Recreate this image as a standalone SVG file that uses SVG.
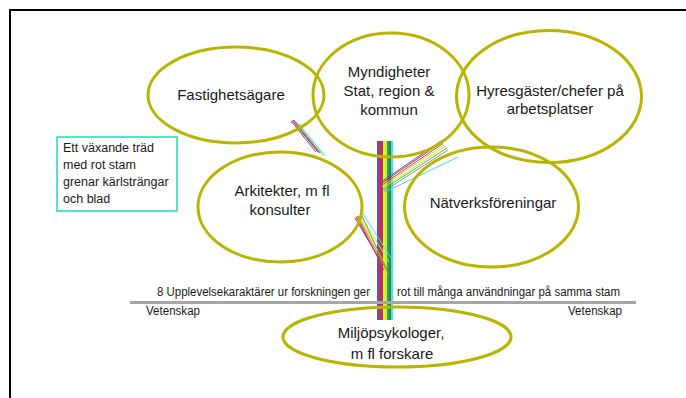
<svg xmlns="http://www.w3.org/2000/svg" width="686" height="398" viewBox="0 0 686 398">
<style>
.ell{fill:none;stroke:#bab400;stroke-width:3}
.t{font-family:"Liberation Sans",Arial,sans-serif;font-size:15px;fill:#1a1a1a;text-anchor:middle}
.s{font-family:"Liberation Sans",Arial,sans-serif;font-size:12px;fill:#1a1a1a}
.b{font-family:"Liberation Sans",Arial,sans-serif;font-size:12.5px;fill:#1a1a1a}
.br line{stroke-width:1}
</style>
<rect x="0" y="0" width="686" height="398" fill="#ffffff"/>
<rect x="10" y="10" width="700" height="420" fill="none" stroke="#000000" stroke-width="2"/>

<g id="note">
<rect x="57" y="137" width="120" height="74" fill="#ffffff" stroke="#48e0c0" stroke-width="1.8"/>
<text class="b" x="63" y="152">Ett växande träd</text>
<text class="b" x="63" y="169">med rot stam</text>
<text class="b" x="63" y="186">grenar kärlsträngar</text>
<text class="b" x="63" y="203">och blad</text>
</g>

<g id="stem">
<rect x="377" y="141" width="2" height="179" fill="#4a5cc4"/>
<rect x="379" y="141" width="2" height="179" fill="#e8203a"/>
<rect x="381" y="141" width="2" height="179" fill="#9a3a8a"/>
<rect x="383" y="141" width="2" height="179" fill="#f2f200"/>
<rect x="385" y="141" width="2" height="179" fill="#b4f05a"/>
<rect x="387" y="141" width="2" height="179" fill="#3ea03e"/>
<rect x="389" y="141" width="2" height="179" fill="#2f7f4f"/>
<rect x="391" y="141" width="2" height="179" fill="#30eef0"/>
</g>

<g id="connectors" class="br">
<g id="branch-fastighet">
<line x1="291" y1="121" x2="316" y2="152" stroke="#5060c0"/>
<line x1="292" y1="120.5" x2="318" y2="152" stroke="#e02030"/>
<line x1="293" y1="120" x2="319" y2="152.5" stroke="#c04080"/>
<line x1="294" y1="120" x2="320" y2="153" stroke="#806090"/>
<line x1="296" y1="122" x2="321" y2="153" stroke="#60b040"/>
<line x1="297" y1="123" x2="323" y2="155" stroke="#b0f060"/>
<line x1="299" y1="124" x2="325" y2="156" stroke="#40e0f0"/>
</g>
<g id="branch-arkitekter">
<line x1="355" y1="218" x2="381" y2="262" stroke="#5060c0"/>
<line x1="356" y1="217" x2="383" y2="266" stroke="#e02030"/>
<line x1="357" y1="216" x2="384" y2="270" stroke="#c04080"/>
<line x1="358" y1="216" x2="389" y2="275" stroke="#d08020"/>
<line x1="359" y1="215" x2="387" y2="268" stroke="#e0e000"/>
<line x1="360" y1="214" x2="389" y2="262" stroke="#b0f060"/>
<line x1="361" y1="214" x2="388" y2="272" stroke="#60b040"/>
<line x1="362" y1="212" x2="391" y2="258" stroke="#40e0f0"/>
</g>
<g id="branch-hyresgaster">
<line x1="381" y1="182" x2="441" y2="141" stroke="#5060c0"/>
<line x1="381" y1="183.5" x2="442" y2="142" stroke="#e02030"/>
<line x1="382" y1="185" x2="443" y2="143.5" stroke="#c04080"/>
<line x1="382" y1="186.5" x2="444" y2="145" stroke="#e0e000"/>
<line x1="383" y1="188" x2="446" y2="146" stroke="#b0f060"/>
<line x1="383" y1="189.5" x2="447" y2="148" stroke="#60b040"/>
<line x1="384" y1="191" x2="448" y2="150" stroke="#909090"/>
<line x1="385" y1="192" x2="458" y2="157" stroke="#40e0f0"/>
</g>
</g>

<g id="fastighetsagare">
<ellipse class="ell" cx="236" cy="95" rx="88" ry="48"/>
<text class="t" x="231" y="100">Fastighetsägare</text>
</g>

<g id="myndigheter">
<ellipse class="ell" cx="391" cy="95" rx="78" ry="62"/>
<text class="t" x="389" y="77">Myndigheter</text>
<text class="t" x="389" y="96">Stat, region &amp;</text>
<text class="t" x="389" y="115">kommun</text>
</g>

<g id="hyresgaster">
<ellipse class="ell" cx="549" cy="96.5" rx="92.5" ry="66"/>
<text class="t" x="550" y="96">Hyresgäster/chefer på</text>
<text class="t" x="550" y="114">arbetsplatser</text>
</g>

<g id="arkitekter">
<ellipse class="ell" cx="280" cy="207" rx="82" ry="55"/>
<text class="t" x="282" y="196">Arkitekter, m fl</text>
<text class="t" x="280" y="215">konsulter</text>
</g>

<g id="natverksforeningar">
<ellipse class="ell" cx="491.5" cy="207" rx="87" ry="60"/>
<text class="t" x="493" y="208">Nätverksföreningar</text>
</g>

<g id="ground">
<line x1="130" y1="302.5" x2="636" y2="302.5" stroke="#a6a6a6" stroke-width="3"/>
<text class="s" x="157" y="296" textLength="213" lengthAdjust="spacingAndGlyphs">8 Upplevelsekaraktärer ur forskningen ger</text>
<text class="s" x="397" y="296" textLength="223" lengthAdjust="spacingAndGlyphs">rot till många användningar på samma stam</text>
<text class="s" x="146" y="315" textLength="54" lengthAdjust="spacingAndGlyphs">Vetenskap</text>
<text class="s" x="568" y="315" textLength="54" lengthAdjust="spacingAndGlyphs">Vetenskap</text>
</g>

<g id="miljopsykologer">
<ellipse class="ell" cx="397" cy="337" rx="114" ry="30"/>
<text class="t" x="391" y="338">Miljöpsykologer,</text>
<text class="t" x="392" y="359">m fl forskare</text>
</g>
</svg>
